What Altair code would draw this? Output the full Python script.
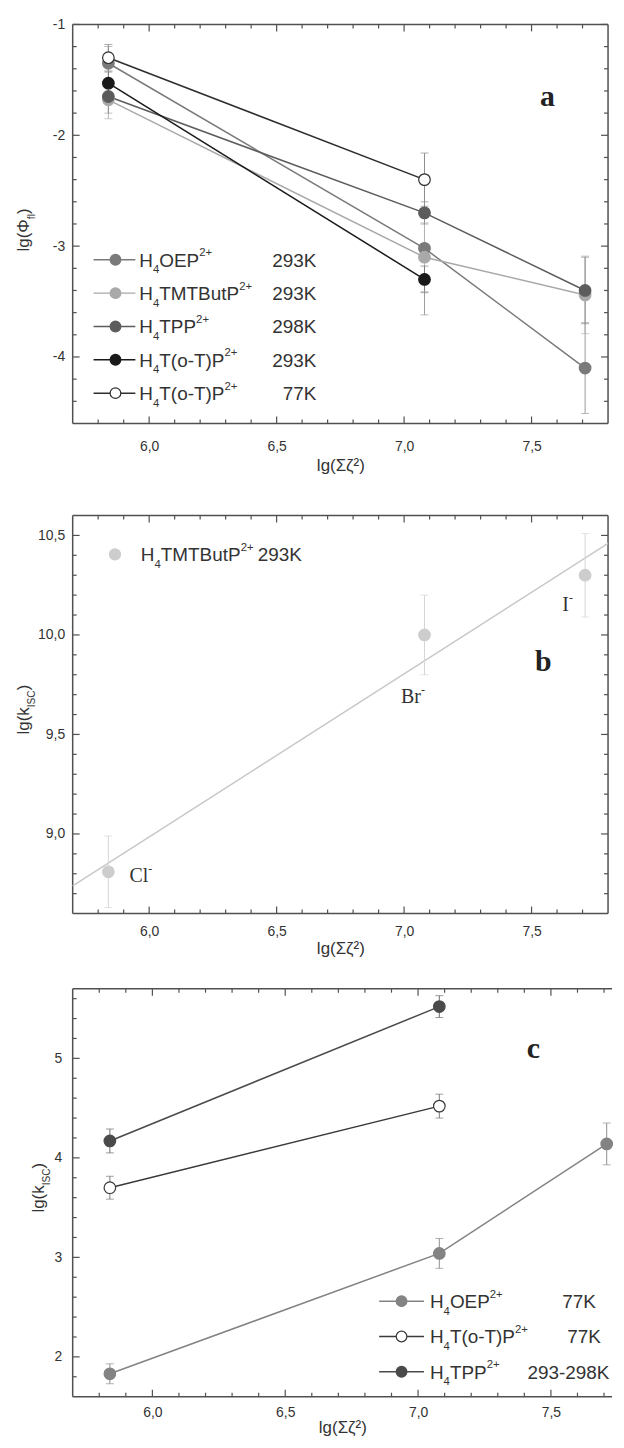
import altair as alt
import pandas as pd

# ---------------- data ----------------
x_lg = [5.84, 7.08, 7.71]          # lg(Σζ²) for Cl-, Br-, I-

# panel a : lg(Φfl)
a_keys = ["OEP293", "TMT293", "TPP298", "oT293", "oT77"]
a_names = ["OEP", "TMTButP", "TPP", "T(o-T)P", "T(o-T)P"]
a_temps = ["293K", "293K", "298K", "293K", "77K"]
a_oep = [-1.35, -3.02, -4.10]
a_oep_e = [0.15, 0.60, 0.41]
a_tmt = [-1.68, -3.10, -3.44]
a_tmt_e = [0.17, 0.31, 0.35]
a_tpp = [-1.65, -2.70, -3.40]
a_tpp_e = [0.15, 0.10, 0.30]
a_ot293 = [-1.53, -3.30]
a_ot293_e = [0.10, 0.12]
a_ot77 = [-1.30, -2.40]
a_ot77_e = [0.12, 0.24]

# panel b : lg(kISC), H4TMTButP2+ 293K
b_keys = ["bTMT293"]
b_names = ["TMTButP"]
b_temps = ["293K"]
b_k = [8.81, 10.00, 10.30]
b_k_e = [0.18, 0.20, 0.21]
b_ions = ["Cl", "Br", "I"]

# panel c : lg(kISC)
c_keys = ["cOEP77", "coT77", "cTPP"]
c_names = ["OEP", "T(o-T)P", "TPP"]
c_temps = ["77K", "77K", "293-298K"]
c_oep = [1.83, 3.04, 4.14]
c_oep_e = [0.10, 0.15, 0.21]
c_ot77 = [3.70, 4.52]
c_ot77_e = [0.115, 0.12]
c_tpp = [4.17, 5.52]
c_tpp_e = [0.12, 0.11]

# axis tick values
x_major = [6.0, 6.5, 7.0, 7.5]
x_minor = [5.8, 5.9, 6.1, 6.2, 6.3, 6.4, 6.6, 6.7, 6.8, 6.9, 7.1, 7.2, 7.3, 7.4, 7.6, 7.7]
a_y_major = [-1, -2, -3, -4]
a_y_minor = [-1.2, -1.4, -1.6, -1.8, -2.2, -2.4, -2.6, -2.8, -3.2, -3.4, -3.6, -3.8, -4.2, -4.4]
b_y_major = [9.0, 9.5, 10.0, 10.5]
b_y_minor = [8.7, 8.8, 8.9, 9.1, 9.2, 9.3, 9.4, 9.6, 9.7, 9.8, 9.9, 10.1, 10.2, 10.3, 10.4]
c_y_major = [2, 3, 4, 5]
c_y_minor = [1.8, 2.2, 2.4, 2.6, 2.8, 3.2, 3.4, 3.6, 3.8, 4.2, 4.4, 4.6, 4.8, 5.2, 5.4, 5.6]

# ---------------- style ----------------
FONT = "Liberation Sans"
SERIF = "Liberation Serif"
TXT = "#333333"
FRAME = "#505050"
LEG = 19
ARIAL = {"H": .722, "O": .778, "E": .667, "P": .667, "T": .611, "M": .833, "B": .667,
         "u": .556, "t": .278, "(": .333, ")": .333, "o": .556, "-": .333, "+": .584,
         " ": .278, "K": .667, "l": .222, "g": .556, "k": .5, "I": .278, "S": .667,
         "C": .722, "f": .278, "Φ": .80, "2": .556, "4": .556}
TIMES = {"C": .667, "l": .278, "B": .667, "r": .333, "I": .333, "-": .333}
ONE = alt.Data(values=[{}])


def txt(text, x, y, size, font=FONT, color=TXT, align="left", baseline="alphabetic",
        angle=0, weight="normal"):
    return alt.Chart(ONE).mark_text(text=text, font=font, fontSize=size, color=color,
                                    align=align, baseline=baseline, angle=angle,
                                    fontWeight=weight).encode(x=alt.value(x), y=alt.value(y))


def piece_len(pieces, size, widths=ARIAL):
    tot = 0.0
    for s, kind in pieces:
        fs = size if kind == "n" else size * 0.6
        tot += sum(widths.get(ch, 0.55) for ch in s) * fs
    return tot


def rich(pieces, x0, y0, size, font=FONT, widths=ARIAL, angle=0, color=TXT, sub=0.35, sup=0.55):
    out = []
    pos = 0.0
    for s, kind in pieces:
        fs = size if kind == "n" else round(size * 0.6, 1)
        shift = 0 if kind == "n" else (size * sub if kind == "sub" else -size * sup)
        if angle == 0:
            x, y = x0 + pos, y0 + shift
        else:
            x, y = x0 + shift, y0 - pos
        out.append(txt(s, x, y, fs, font=font, angle=angle, color=color))
        pos += sum(widths.get(ch, 0.55) for ch in s) * fs
    return out


def rows(key, ys, es):
    return [{"s": key, "x": x_lg[i], "y": ys[i], "e": es[i]} for i in range(len(ys))]


def frame_layers(W, H, right=True):
    r = alt.Chart(ONE).mark_rule(color=FRAME, strokeWidth=1.5)
    out = [r.encode(x=alt.value(0), x2=alt.value(W), y=alt.value(0)),
           r.encode(x=alt.value(0), x2=alt.value(W), y=alt.value(H)),
           r.encode(x=alt.value(0), y=alt.value(0), y2=alt.value(H))]
    if right:
        out.append(r.encode(x=alt.value(W), y=alt.value(0), y2=alt.value(H)))
    return out


def tick_layers(xsc, ysc, xax, yax, W, H, xmaj, xmin, ymaj, ymin, right=True):
    out = []
    for vals, ln in ((xmaj, 7), (xmin, 4)):
        ch = alt.Chart(pd.DataFrame({"v": vals})).mark_rule(color=FRAME, strokeWidth=1.2)
        X = alt.X("v:Q", scale=xsc, axis=xax)
        out.append(ch.encode(x=X, y=alt.value(H), y2=alt.value(H - ln)))
        out.append(ch.encode(x=X, y=alt.value(0), y2=alt.value(ln)))
    for vals, ln in ((ymaj, 7), (ymin, 4)):
        ch = alt.Chart(pd.DataFrame({"v": vals})).mark_rule(color=FRAME, strokeWidth=1.2)
        Y = alt.Y("v:Q", scale=ysc, axis=yax)
        out.append(ch.encode(y=Y, x=alt.value(0), x2=alt.value(ln)))
        if right:
            out.append(ch.encode(y=Y, x=alt.value(W), x2=alt.value(W - ln)))
    return out + frame_layers(W, H, right)


def legend_entry(x1, x2, xc, xt, yc, size, stroke, fill, name, tsize, line=True):
    out = []
    if line:
        out.append(alt.Chart(ONE).mark_rule(color=stroke, strokeWidth=1.5).encode(
            x=alt.value(x1), x2=alt.value(x2), y=alt.value(yc)))
    out.append(alt.Chart(ONE).mark_point(shape="circle", filled=True, size=size, fill=fill,
                                         stroke=stroke, strokeWidth=1.2, opacity=1).encode(
        x=alt.value(xc), y=alt.value(yc)))
    base = yc + tsize * 0.36
    out += rich([("H", "n"), ("4", "sub"), (name, "n"), ("2+", "sup")], xt, base, tsize)
    return out


def series_layers(df, keys, strokes, fills, errs, X, Y, ysc, yax, psize, lines=True):
    sc_s = alt.Scale(domain=keys, range=strokes)
    sc_f = alt.Scale(domain=keys, range=fills)
    sc_e = alt.Scale(domain=keys, range=errs)
    base = alt.Chart(df)
    err = base.transform_calculate(lo="datum.y - datum.e", hi="datum.y + datum.e")
    ce = alt.Color("s:N", scale=sc_e, legend=None)
    out = [
        err.mark_rule(strokeWidth=1).encode(x=X, y=alt.Y("lo:Q", scale=ysc, axis=yax), y2="hi:Q", color=ce),
        err.mark_tick(orient="horizontal", size=8, thickness=1).encode(
            x=X, y=alt.Y("lo:Q", scale=ysc, axis=yax), color=ce),
        err.mark_tick(orient="horizontal", size=8, thickness=1).encode(
            x=X, y=alt.Y("hi:Q", scale=ysc, axis=yax), color=ce),
    ]
    if lines:
        out.append(base.mark_line(strokeWidth=1.5).encode(
            x=X, y=Y, stroke=alt.Stroke("s:N", scale=sc_s, legend=None)))
    out.append(base.mark_point(shape="circle", filled=True, size=psize, opacity=1,
                               strokeWidth=1.2).encode(
        x=X, y=Y, stroke=alt.Stroke("s:N", scale=sc_s, legend=None),
        fill=alt.Fill("s:N", scale=sc_f, legend=None)))
    return out


def axes(xdom, ydom, ymaj, ylabexpr, xlp, xtp, ylp):
    xsc = alt.Scale(domain=xdom, nice=False, zero=False)
    ysc = alt.Scale(domain=ydom, nice=False, zero=False)
    xax = alt.Axis(values=x_major, labelExpr="replace(format(datum.value, '.1f'), '.', ',')",
                   title="lg(Σζ²)", labelPadding=xlp, titlePadding=xtp)
    yax = alt.Axis(values=ymaj, labelExpr=ylabexpr, title=None, labelPadding=ylp)
    return xsc, ysc, xax, yax


# ---------------- panel a ----------------
Wa, Ha = 538, 401
xsc, ysc, xax, yax = axes([5.7, 7.8], [-4.6, -1.0], a_y_major, "'' + datum.value", 16, 4, 8)
Xa = alt.X("x:Q", scale=xsc, axis=xax)
Ya = alt.Y("y:Q", scale=ysc, axis=yax)
df_a = pd.DataFrame(rows("OEP293", a_oep, a_oep_e) + rows("TMT293", a_tmt, a_tmt_e)
                    + rows("TPP298", a_tpp, a_tpp_e) + rows("oT293", a_ot293, a_ot293_e)
                    + rows("oT77", a_ot77, a_ot77_e))
a_stroke = ["#7a7a7a", "#a9a9a9", "#5c5c5c", "#1a1a1a", "#2e2e2e"]
a_fill = ["#7a7a7a", "#a9a9a9", "#5c5c5c", "#1a1a1a", "#ffffff"]
a_err = ["#9c9c9c", "#b4b4b4", "#8c8c8c", "#7c7c7c", "#8c8c8c"]
layers_a = tick_layers(xsc, ysc, xax, yax, Wa, Ha, x_major, x_minor, a_y_major, a_y_minor)
layers_a += series_layers(df_a, a_keys, a_stroke, a_fill, a_err, Xa, Ya, ysc, yax, 135)
for i in range(len(a_keys)):
    yc = 236.5 + 33.5 * i
    layers_a += legend_entry(21, 63, 43, 67, yc, 115, a_stroke[i], a_fill[i], a_names[i], LEG)
    layers_a.append(txt(a_temps[i], 245, yc + LEG * 0.36, LEG, align="right"))
ytit_a = [("lg(Φ", "n"), ("fl", "sub"), (")", "n")]
La = piece_len(ytit_a, 17)
layers_a += rich(ytit_a, -44, Ha / 2 + La / 2 + 6, 17, angle=270)
layers_a.append(txt("a", 477, 82, 30, font=SERIF, weight="bold", align="center", color="#222222"))
# invisible spacer that reserves the gap below panel a
layers_a.append(alt.Chart(ONE).mark_rule(opacity=0).encode(
    x=alt.value(5), y=alt.value(Ha), y2=alt.value(Ha + 60)))
panel_a = alt.layer(*layers_a).properties(width=Wa, height=Ha)

# ---------------- panel b ----------------
Wb, Hb = 538, 400
xsc, ysc, xax, yax = axes([5.7, 7.8], [8.6, 10.6], b_y_major,
                          "replace(format(datum.value, '.1f'), '.', ',')", 11, 2, 8)
Xb = alt.X("x:Q", scale=xsc, axis=xax)
Yb = alt.Y("y:Q", scale=ysc, axis=yax)
df_b = pd.DataFrame(rows("bTMT293", b_k, b_k_e))
layers_b = tick_layers(xsc, ysc, xax, yax, Wb, Hb, x_major, x_minor, b_y_major, b_y_minor)
layers_b.append(alt.Chart(df_b).transform_regression("x", "y", extent=[5.7, 7.8])
                .mark_line(color="#c8c8c8", strokeWidth=1.5).encode(x=Xb, y=Yb))
layers_b += series_layers(df_b, b_keys, ["#cdcdcd"], ["#cdcdcd"], ["#d6d6d6"], Xb, Yb, ysc, yax,
                          135, lines=False)
layers_b += legend_entry(0, 0, 42.5, 68.5, 39, 125, "#cdcdcd", "#cdcdcd", b_names[0], LEG,
                         line=False)
layers_b.append(txt(b_temps[0], 186, 39 + LEG * 0.36, LEG))
ion_pos = [(57, 368), (330, 188), (492, 96)]
for ion, (ix, iy) in zip(b_ions, ion_pos):
    layers_b += rich([(ion, "n"), ("-", "sup")], ix, iy, 20, font=SERIF, widths=TIMES, sup=0.45)
ytit_b = [("lg(k", "n"), ("ISC", "sub"), (")", "n")]
Lb = piece_len(ytit_b, 17)
layers_b += rich(ytit_b, -44, Hb / 2 + Lb / 2 - 5, 17, angle=270)
layers_b.append(txt("b", 473, 156, 30, font=SERIF, weight="bold", align="center", color="#222222"))
panel_b = alt.layer(*layers_b).properties(width=Wb, height=Hb)

# ---------------- panel c ----------------
Wc, Hc = 542, 410
xsc, ysc, xax, yax = axes([5.7, 7.73], [1.6, 5.7], c_y_major, "format(datum.value, 'd')", 9, 0, 11)
Xc = alt.X("x:Q", scale=xsc, axis=xax)
Yc = alt.Y("y:Q", scale=ysc, axis=yax)
df_c = pd.DataFrame(rows("cOEP77", c_oep, c_oep_e) + rows("coT77", c_ot77, c_ot77_e)
                    + rows("cTPP", c_tpp, c_tpp_e))
c_stroke = ["#838383", "#3a3a3a", "#4a4a4a"]
c_fill = ["#838383", "#ffffff", "#4a4a4a"]
c_err = ["#8e8e8e", "#7a7a7a", "#6e6e6e"]
layers_c = tick_layers(xsc, ysc, xax, yax, Wc, Hc, x_major, x_minor, c_y_major, c_y_minor,
                       right=False)
layers_c += series_layers(df_c, c_keys, c_stroke, c_fill, c_err, Xc, Yc, ysc, yax, 135)
c_temp_x = [492, 497, 457]
for i in range(len(c_keys)):
    yc = 314 + 35.5 * i
    layers_c += legend_entry(308, 353, 330.5, 359, yc, 115, c_stroke[i], c_fill[i],
                             c_names[i], LEG)
    layers_c.append(txt(c_temps[i], c_temp_x[i], yc + LEG * 0.36, LEG))
ytit_c = [("lg(k", "n"), ("ISC", "sub"), (")", "n")]
Lc = piece_len(ytit_c, 17)
layers_c += rich(ytit_c, -29, Hc / 2 + Lc / 2 - 5, 17, angle=270)
layers_c.append(txt("c", 463, 70, 30, font=SERIF, weight="bold", align="center", color="#222222"))
panel_c = alt.layer(*layers_c).properties(width=Wc, height=Hc)

chart = alt.vconcat(panel_a, panel_b, panel_c, spacing=29.5).resolve_scale(
    color="independent", stroke="independent", fill="independent"
).properties(
    padding={"left": 6, "top": 5, "right": 0, "bottom": 0}
).configure_view(stroke="transparent").configure_axis(
    labelFont=FONT, labelFontSize=14, labelColor=TXT, titleFont=FONT, titleFontSize=17,
    titleColor=TXT, titleFontWeight="normal", grid=False, ticks=False, domain=False)

chart.save("out.html", embed_options={"renderer": "svg", "actions": False})
